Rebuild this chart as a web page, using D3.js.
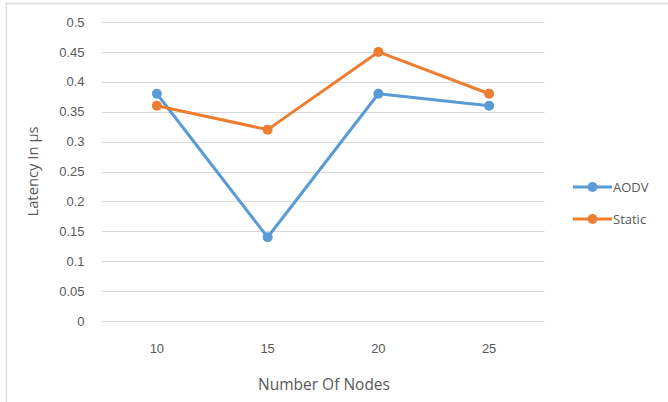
<!DOCTYPE html>
<html>
<head>
<meta charset="utf-8">
<script src="https://cdn.jsdelivr.net/npm/d3@7"></script>
<style>
  html, body { margin: 0; padding: 0; background: #fff; }
  svg { display: block; font-family: "Open Sans", "Liberation Sans", sans-serif; }
</style>
</head>
<body>
<svg id="chart" width="668" height="402"></svg>
<script>
// Latency per node count for the two routing setups
const nodeCounts = ["10", "15", "20", "25"];
const aodvLatency = [0.38, 0.14, 0.38, 0.36];
const staticLatency = [0.36, 0.32, 0.45, 0.38];
const yTicks = [0, 0.05, 0.1, 0.15, 0.2, 0.25, 0.3, 0.35, 0.4, 0.45, 0.5];
const seriesNames = ["AODV", "Static"];
const seriesColors = ["#5b9bd5", "#ed7d31"];

const series = [aodvLatency, staticLatency].map((vals, i) => ({
  name: seriesNames[i],
  color: seriesColors[i],
  points: vals.map((v, j) => ({ cat: nodeCounts[j], v }))
}));

const svg = d3.select("#chart");
const plot = { left: 101.5, right: 544.5, top: 22, bottom: 321 };

// Chart frame edges
svg.append("line").attr("x1", 5).attr("x2", 668).attr("y1", 3.5).attr("y2", 3.5)
  .attr("stroke", "#e2e2e2").attr("stroke-width", 2);
svg.append("line").attr("x1", 6.5).attr("x2", 6.5).attr("y1", 3).attr("y2", 402)
  .attr("stroke", "#e2e2e2").attr("stroke-width", 1.5);

const x = d3.scaleBand().domain(nodeCounts).range([plot.left, plot.right]);
const y = d3.scaleLinear().domain([0, 0.5]).range([plot.bottom, plot.top]);

// Horizontal gridlines
svg.append("g").selectAll("line").data(yTicks).join("line")
  .attr("x1", plot.left).attr("x2", plot.right)
  .attr("y1", d => Math.round(y(d)) + 0.5).attr("y2", d => Math.round(y(d)) + 0.5)
  .attr("stroke", "#d9d9d9").attr("stroke-width", 1);

// Y axis labels
const yAxis = d3.axisLeft(y).tickValues(yTicks).tickSize(0).tickPadding(0)
  .tickFormat(d => d3.format("")(+d.toFixed(2)));
svg.append("g").attr("transform", `translate(${plot.left - 17},0)`).call(yAxis)
  .call(g => g.select(".domain").remove())
  .call(g => g.selectAll("text").attr("fill", "#595959").attr("font-size", 13));

// X axis labels
const xAxis = d3.axisBottom(x).tickSize(0).tickPadding(0);
svg.append("g").attr("transform", `translate(0,${plot.bottom + 23})`).call(xAxis)
  .call(g => g.select(".domain").remove())
  .call(g => g.selectAll("text").attr("fill", "#595959").attr("font-size", 13));

// Axis titles
svg.append("text").attr("x", (plot.left + plot.right) / 2 + 1).attr("y", 390)
  .attr("text-anchor", "middle").attr("fill", "#595959").attr("font-size", 15.5)
  .text("Number Of Nodes");
svg.append("text").attr("transform", `translate(38,${(plot.top + plot.bottom) / 2}) rotate(-90)`)
  .attr("text-anchor", "middle").attr("fill", "#595959").attr("font-size", 14.8)
  .text("Latency In µs");

// Series lines and markers
const line = d3.line().x(d => x(d.cat) + x.bandwidth() / 2).y(d => y(d.v));
const sg = svg.append("g").selectAll("g").data(series).join("g");
sg.append("path").attr("d", d => line(d.points)).attr("fill", "none")
  .attr("stroke", d => d.color).attr("stroke-width", 3).attr("stroke-linejoin", "round")
  .attr("stroke-linecap", "round");
sg.selectAll("circle").data(d => d.points.map(p => ({ ...p, color: d.color }))).join("circle")
  .attr("cx", d => x(d.cat) + x.bandwidth() / 2).attr("cy", d => y(d.v))
  .attr("r", 5).attr("fill", d => d.color);

// Legend
const lg = svg.append("g").selectAll("g").data(series).join("g")
  .attr("transform", (d, i) => `translate(573,${187 + i * 32})`);
lg.append("line").attr("x1", 0).attr("x2", 39).attr("y1", 0).attr("y2", 0)
  .attr("stroke", d => d.color).attr("stroke-width", 3);
lg.append("circle").attr("cx", 19.5).attr("cy", 0).attr("r", 5).attr("fill", d => d.color);
lg.append("text").attr("x", 40).attr("y", 0).attr("dy", "0.35em")
  .attr("fill", "#595959").attr("font-size", 13).text(d => d.name);
</script>
</body>
</html>
